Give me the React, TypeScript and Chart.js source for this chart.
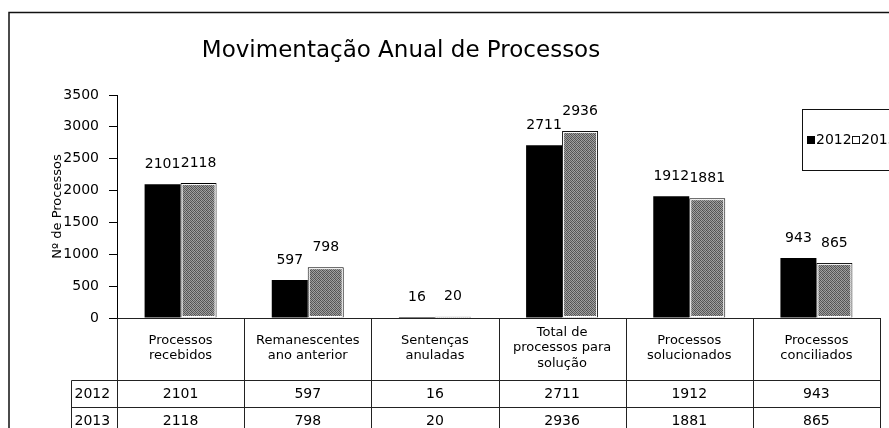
import React, { useEffect, useRef } from 'react';
import { Chart, registerables } from 'chart.js';

Chart.register(...registerables);

const chartTitle = 'Movimentação Anual de Processos';
const yAxisTitle = 'Nº de Processos';
const categories: string[][] = [
  ['Processos', 'recebidos'],
  ['Remanescentes', 'ano anterior'],
  ['Sentenças', 'anuladas'],
  ['Total de', 'processos para', 'solução'],
  ['Processos', 'solucionados'],
  ['Processos', 'conciliados'],
];
const seriesLabels = ['2012', '2013'];
const values2012 = [2101, 597, 16, 2711, 1912, 943];
const values2013 = [2118, 798, 20, 2936, 1881, 865];
const yMin = 0;
const yMax = 3500;
const yStep = 500;

const FONT = '"DejaVu Sans", Verdana, sans-serif';

function makeDither(): CanvasPattern | string {
  const c = document.createElement('canvas');
  c.width = 4;
  c.height = 4;
  const g = c.getContext('2d');
  if (!g) return '#808080';
  const shades = [
    '#4f4f4f', '#a4a4a4', '#606060', '#9c9c9c',
    '#a0a0a0', '#585858', '#989898', '#5a5a5a',
    '#646464', '#a2a2a2', '#4c4c4c', '#969696',
    '#9e9e9e', '#5c5c5c', '#a6a6a6', '#525252',
  ];
  shades.forEach((s, i) => {
    g.fillStyle = s;
    g.fillRect(i % 4, Math.floor(i / 4), 1, 1);
  });
  const p = g.createPattern(c, 'repeat');
  return p || '#808080';
}

const decorPlugin = {
  id: 'decor',
  afterDatasetsDraw(chart: any) {
    const ctx = chart.ctx as CanvasRenderingContext2D;
    // inner white line of the 2013 bars
    const meta1 = chart.getDatasetMeta(1);
    ctx.save();
    ctx.strokeStyle = '#ffffff';
    ctx.lineWidth = 1;
    meta1.data.forEach((bar: any) => {
      const p = bar.getProps(['x', 'y', 'base', 'width'], true);
      const l = p.x - p.width / 2 + 1.5;
      const r = p.x + p.width / 2 - 1.5;
      const h = p.base - p.y - 2.5;
      if (h > 1) ctx.strokeRect(l, p.y + 1.5, r - l, h);
    });
    ctx.restore();

    // value labels
    ctx.save();
    ctx.font = `14px ${FONT}`;
    ctx.fillStyle = '#000';
    ctx.textAlign = 'center';
    ctx.textBaseline = 'middle';
    chart.data.datasets.forEach((ds: any, di: number) => {
      const meta = chart.getDatasetMeta(di);
      meta.data.forEach((bar: any, i: number) => {
        const p = bar.getProps(['x', 'y'], true);
        ctx.fillText(String(ds.data[i]), p.x, p.y - 20);
      });
    });
    ctx.restore();
  },
  afterDraw(chart: any) {
    const ctx = chart.ctx as CanvasRenderingContext2D;
    const area = chart.chartArea;
    const xs = chart.scales.x;

    // outer chart border (top & left)
    ctx.save();
    ctx.strokeStyle = '#111';
    ctx.lineWidth = 1.5;
    ctx.beginPath();
    ctx.moveTo(9, 440);
    ctx.lineTo(9, 12.5);
    ctx.lineTo(900, 12.5);
    ctx.stroke();
    ctx.restore();

    // title
    ctx.save();
    ctx.font = `23px ${FONT}`;
    ctx.fillStyle = '#000';
    ctx.textAlign = 'center';
    ctx.textBaseline = 'alphabetic';
    ctx.fillText(chartTitle, 401, 57);
    ctx.restore();

    // data table
    const step = xs.getPixelForValue(1) - xs.getPixelForValue(0);
    const left = Math.round(area.left) + 0.5;
    const right = Math.round(area.right) + 0.5;
    const top = Math.round(area.bottom) + 0.5;
    const headerBottom = top + 62;
    const rowH = 27;
    const labelLeft = left - 46;
    const rows = [values2012, values2013];

    ctx.save();
    ctx.strokeStyle = '#222';
    ctx.lineWidth = 1;
    ctx.beginPath();
    ctx.moveTo(left, top);
    ctx.lineTo(right, top);
    for (let r = 0; r <= rows.length; r++) {
      const y = headerBottom + r * rowH;
      ctx.moveTo(labelLeft, y);
      ctx.lineTo(right, y);
    }
    const bottom = headerBottom + rows.length * rowH;
    for (let i = 0; i <= categories.length; i++) {
      const x = Math.round(xs.getPixelForValue(i) - step / 2) + 0.5;
      ctx.moveTo(x, top);
      ctx.lineTo(x, bottom);
    }
    ctx.moveTo(labelLeft, headerBottom);
    ctx.lineTo(labelLeft, bottom);
    ctx.stroke();

    ctx.fillStyle = '#000';
    ctx.textAlign = 'center';
    ctx.textBaseline = 'middle';
    ctx.font = `13px ${FONT}`;
    const lh = 15.5;
    categories.forEach((lines, i) => {
      const cx = xs.getPixelForValue(i);
      const cy = (top + headerBottom) / 2 - 1.5;
      lines.forEach((t, k) => {
        ctx.fillText(t, cx, cy - ((lines.length - 1) * lh) / 2 + k * lh);
      });
    });
    ctx.font = `14px ${FONT}`;
    rows.forEach((vals, r) => {
      const cy = headerBottom + r * rowH + rowH / 2;
      vals.forEach((v, i) => {
        ctx.fillText(String(v), xs.getPixelForValue(i), cy);
      });
    });
    ctx.textAlign = 'left';
    seriesLabels.forEach((s, r) => {
      const cy = headerBottom + r * rowH + rowH / 2;
      ctx.fillText(s, labelLeft + 3, cy);
    });
    ctx.restore();

    // legend
    ctx.save();
    ctx.strokeStyle = '#111';
    ctx.lineWidth = 1;
    ctx.strokeRect(802.5, 109.5, 200, 61);
    const ly = 140;
    ctx.fillStyle = '#000';
    ctx.fillRect(807, ly - 4, 8, 8);
    ctx.font = `14px ${FONT}`;
    ctx.textAlign = 'left';
    ctx.textBaseline = 'middle';
    ctx.fillText(seriesLabels[0], 816, ly);
    ctx.fillStyle = '#fff';
    ctx.fillRect(852, ly - 4, 8, 8);
    ctx.strokeRect(852.5, ly - 3.5, 7, 7);
    ctx.fillStyle = '#000';
    ctx.fillText(seriesLabels[1], 861, ly);
    ctx.restore();
  },
};

export default function App() {
  const ref = useRef<HTMLCanvasElement | null>(null);

  useEffect(() => {
    if (!ref.current) return;
    const pattern = makeDither();
    const chart = new Chart(ref.current, {
      type: 'bar',
      data: {
        labels: categories,
        datasets: [
          {
            label: seriesLabels[0],
            data: values2012,
            backgroundColor: '#000000',
            borderWidth: 0,
            categoryPercentage: 0.566,
            barPercentage: 1,
          },
          {
            label: seriesLabels[1],
            data: values2013,
            backgroundColor: pattern as any,
            borderColor: '#000000',
            borderWidth: 1,
            categoryPercentage: 0.566,
            barPercentage: 1,
          },
        ],
      },
      options: {
        responsive: false,
        animation: false,
        devicePixelRatio: 1,
        layout: { padding: { top: 95, left: 50, right: 9, bottom: 110 } },
        plugins: {
          legend: { display: false },
          title: { display: false },
          tooltip: { enabled: false },
        },
        scales: {
          x: {
            ticks: { display: false },
            grid: { display: false },
            border: { display: true, color: '#000', width: 1 },
            afterFit: (s: any) => {
              s.height = 0;
            },
          },
          y: {
            min: yMin,
            max: yMax,
            ticks: {
              stepSize: yStep,
              color: '#000',
              padding: 10,
              font: { family: FONT, size: 14 },
              callback: (v: any) => String(v),
            },
            grid: {
              drawOnChartArea: false,
              drawTicks: true,
              tickLength: 8,
              color: '#000',
            },
            border: { display: true, color: '#000', width: 1 },
            title: {
              display: true,
              text: yAxisTitle,
              color: '#000',
              font: { family: FONT, size: 13 },
              padding: { top: 0, bottom: 0 },
            },
            afterFit: (s: any) => {
              s.width = 67;
            },
          },
        },
      },
      plugins: [decorPlugin],
    });
    return () => chart.destroy();
  }, []);

  return (
    <div style={{ position: 'absolute', left: 0, top: 0, width: 889, height: 428, background: '#fff' }}>
      <canvas ref={ref} width={889} height={428} style={{ display: 'block', width: 889, height: 428 }} />
    </div>
  );
}
